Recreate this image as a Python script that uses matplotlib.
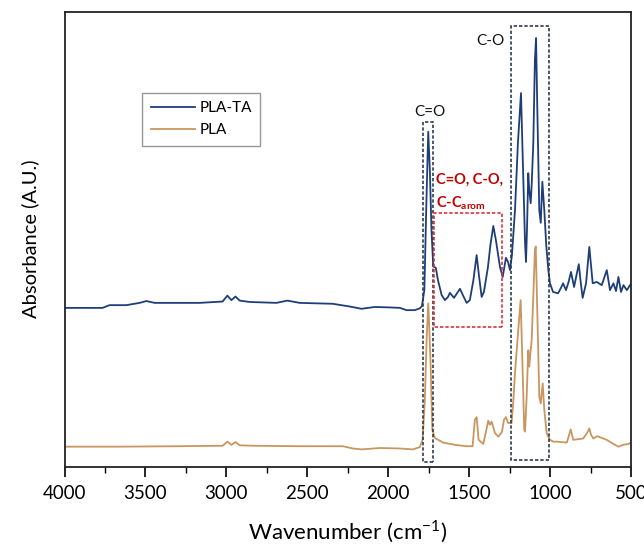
import matplotlib
matplotlib.use("Agg")
import matplotlib.pyplot as plt
from matplotlib.patches import Rectangle
from matplotlib.ticker import MultipleLocator

plt.rcParams['font.family'] = ['Lato', 'DejaVu Sans']
plt.rcParams['mathtext.fontset'] = 'custom'
plt.rcParams['mathtext.rm'] = 'Lato'
plt.rcParams['mathtext.bf'] = 'Lato:bold'

# FTIR spectrum of PLA-TA (wavenumber in cm-1, absorbance in a.u.)
pla_ta_wn = [4000, 3765, 3722, 3618, 3536, 3495, 3443, 3351, 3165, 3023, 2994, 2969,
             2944, 2918, 2856, 2691, 2623, 2547, 2343, 2238, 2165, 2083, 1990, 1928,
             1887, 1836, 1805, 1792, 1777, 1764, 1753, 1743, 1733, 1722, 1706, 1693,
             1670, 1650, 1631, 1619, 1594, 1557, 1539, 1516, 1496, 1474, 1454, 1440,
             1423, 1409, 1384, 1369, 1351, 1335, 1310, 1293, 1273, 1260, 1248, 1236,
             1217, 1199, 1180, 1166, 1155, 1149, 1143, 1135, 1129, 1120, 1114, 1104,
             1094, 1087, 1079, 1067, 1058, 1048, 1036, 1024, 1011, 1001, 982, 951,
             933, 920, 902, 886, 871, 852, 837, 823, 809, 799, 778, 758, 737, 712,
             681, 650, 630, 609, 593, 578, 562, 547, 526, 506]
pla_ta_abs = [0.349, 0.349, 0.355, 0.355, 0.360, 0.364, 0.360, 0.360, 0.360, 0.363, 0.376, 0.366,
              0.374, 0.365, 0.362, 0.360, 0.365, 0.360, 0.358, 0.352, 0.347, 0.351, 0.350, 0.349,
              0.344, 0.344, 0.348, 0.353, 0.388, 0.586, 0.736, 0.652, 0.520, 0.440, 0.437, 0.410,
              0.377, 0.366, 0.373, 0.382, 0.371, 0.391, 0.377, 0.360, 0.366, 0.410, 0.465, 0.421,
              0.373, 0.384, 0.439, 0.487, 0.529, 0.498, 0.439, 0.417, 0.459, 0.450, 0.432, 0.465,
              0.564, 0.711, 0.821, 0.637, 0.492, 0.450, 0.520, 0.645, 0.608, 0.579, 0.619, 0.711,
              0.894, 0.942, 0.784, 0.564, 0.536, 0.626, 0.564, 0.487, 0.432, 0.403, 0.384, 0.381,
              0.393, 0.403, 0.388, 0.406, 0.428, 0.395, 0.421, 0.445, 0.399, 0.371, 0.403, 0.483,
              0.403, 0.406, 0.399, 0.432, 0.388, 0.403, 0.386, 0.417, 0.384, 0.399, 0.388, 0.399]

# FTIR spectrum of neat PLA
pla_wn = [4000, 3660, 3289, 3023, 2994, 2969, 2944, 2918, 2837, 2547, 2281, 2219,
          2165, 2052, 1928, 1848, 1805, 1788, 1774, 1763, 1753, 1746, 1738, 1728,
          1712, 1661, 1588, 1516, 1479, 1465, 1454, 1442, 1413, 1397, 1382, 1372,
          1361, 1341, 1320, 1298, 1285, 1273, 1259, 1238, 1227, 1217, 1197, 1182,
          1170, 1160, 1155, 1145, 1135, 1129, 1123, 1114, 1104, 1094, 1089, 1079,
          1067, 1058, 1046, 1036, 1021, 1001, 980, 959, 897, 885, 873, 857,
          795, 772, 758, 747, 733, 708, 650, 609, 578, 549, 516, 502]
pla_abs = [0.044, 0.044, 0.045, 0.046, 0.055, 0.048, 0.054, 0.047, 0.046, 0.045, 0.045, 0.040,
           0.038, 0.041, 0.040, 0.038, 0.043, 0.059, 0.147, 0.279, 0.359, 0.300, 0.220, 0.081,
           0.063, 0.053, 0.048, 0.045, 0.045, 0.103, 0.109, 0.059, 0.050, 0.076, 0.101, 0.092,
           0.099, 0.074, 0.066, 0.076, 0.103, 0.109, 0.096, 0.096, 0.147, 0.206, 0.300, 0.366,
           0.213, 0.081, 0.077, 0.154, 0.256, 0.220, 0.245, 0.278, 0.374, 0.476, 0.484, 0.338,
           0.154, 0.139, 0.183, 0.125, 0.073, 0.059, 0.055, 0.055, 0.053, 0.067, 0.082, 0.059,
           0.062, 0.074, 0.084, 0.070, 0.062, 0.067, 0.059, 0.050, 0.044, 0.048, 0.050, 0.053]

x_ticks = [4000, 3500, 3000, 2500, 2000, 1500, 1000, 500]

# highlighted band regions: (high wn, low wn, bottom, top)
band_co_double = (1788, 1726, 0.011, 0.758)
band_co_single = (1242, 1007, 0.015, 0.969)
band_arom = (1716, 1296, 0.308, 0.557)

blue = '#1F3E78'
tan = '#C9965F'
box_dark = '#2E3B4E'
box_red = '#D9343A'
label_red = '#C00000'

fig = plt.figure(figsize=(6.44, 5.45), dpi=100)
ax = fig.add_axes([0.1002, 0.1437, 0.8797, 0.8349])

ax.plot(pla_ta_wn, pla_ta_abs, color=blue, lw=1.3, label='PLA-TA')
ax.plot(pla_wn, pla_abs, color=tan, lw=1.3, label='PLA')

for (hi, lo, b, t), col in [(band_co_double, box_dark), (band_co_single, box_dark),
                            (band_arom, box_red)]:
    ax.add_patch(Rectangle((lo, b), hi - lo, t - b, fill=False, edgecolor=col,
                           lw=1.2, ls=(0, (2, 1.2)), zorder=3))

ax.text(1745, 0.780, 'C=O', ha='center', va='center', fontsize=11, color='#111111')
ax.text(1372, 0.935, 'C-O', ha='center', va='center', fontsize=11, color='#111111')
ax.text(1703, 0.630, 'C=O, C-O,', ha='left', va='center', fontsize=10.5,
        color=label_red, fontweight='bold')
ax.text(1703, 0.579, r'C-C$_{\mathbf{arom}}$', ha='left', va='center', fontsize=10.5,
        color=label_red, fontweight='bold')

ax.set_xlim(4000, 500)
ax.set_ylim(0, 1)
ax.set_xticks(x_ticks)
ax.xaxis.set_minor_locator(MultipleLocator(250))
ax.tick_params(axis='x', which='major', direction='out', length=7, width=1.2,
               labelsize=13.5, pad=6)
ax.tick_params(axis='x', which='minor', direction='out', length=4, width=1.0)
ax.set_yticks([])
for s in ax.spines.values():
    s.set_linewidth(1.3)
    s.set_color('#222222')

ax.set_xlabel('Wavenumber (cm$^{-1}$)', fontsize=16, labelpad=12)
ax.set_ylabel('Absorbance (A.U.)', fontsize=14.5, labelpad=18)

leg = ax.legend(loc='upper left', bbox_to_anchor=(0.137, 0.822), fontsize=11,
                frameon=True, fancybox=False, edgecolor='#7F7F7F', handlelength=2.9,
                handletextpad=0.3, borderpad=0.55, labelspacing=0.55, borderaxespad=0)
leg.get_frame().set_linewidth(1.0)

fig.savefig('out.png', dpi=100)
